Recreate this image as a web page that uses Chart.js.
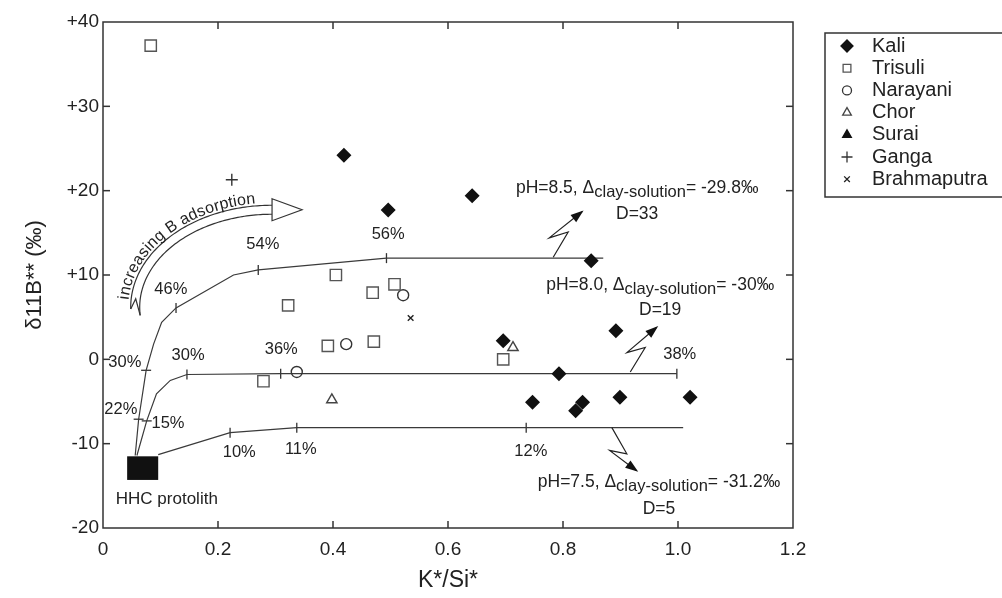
<!DOCTYPE html>
<html>
<head>
<meta charset="utf-8">
<script src="https://cdn.jsdelivr.net/npm/chart.js@4.4.1/dist/chart.umd.min.js"></script>
<style>
  html, body { margin: 0; padding: 0; background: #fff; }
  #wrap { width: 1002px; height: 598px; }
</style>
</head>
<body>
<div id="wrap"><canvas id="chart"></canvas></div>
<script>
// river samples: [K*/Si*, d11B** (permil)]
const kali = [[0.419, 24.2], [0.496, 17.7], [0.642, 19.4], [0.849, 11.7], [0.892, 3.4], [0.696, 2.2],
              [0.793, -1.7], [0.747, -5.1], [0.822, -6.1], [0.834, -5.1], [0.899, -4.5], [1.021, -4.5]];
const trisuli = [[0.083, 37.2], [0.322, 6.4], [0.405, 10.0], [0.469, 7.9], [0.507, 8.9], [0.391, 1.6],
                 [0.471, 2.1], [0.279, -2.6], [0.696, 0.0]];
const narayani = [[0.522, 7.6], [0.423, 1.8], [0.337, -1.5]];
const chor = [[0.398, -4.8], [0.713, 1.4]];
const surai = [];
const ganga = [[0.224, 21.3]];
const brahmaputra = [[0.535, 4.9]];

// model curves from the HHC protolith
const curve85 = [[0.056, -11.4], [0.062, -7.1], [0.075, -1.3], [0.088, 1.8], [0.102, 4.4], [0.127, 6.1],
                 [0.227, 10.0], [0.270, 10.6], [0.493, 12.0], [0.870, 12.0]];
const curve80 = [[0.059, -11.4], [0.076, -7.3], [0.093, -4.1], [0.117, -2.5], [0.146, -1.8], [0.309, -1.7],
                 [0.998, -1.7]];
const curve75 = [[0.096, -11.3], [0.221, -8.7], [0.337, -8.1], [0.736, -8.1], [1.009, -8.1]];
const flatTicks = [[0.127, 6.1], [0.270, 10.6], [0.493, 12.0], [0.146, -1.8], [0.309, -1.7], [0.998, -1.7],
                   [0.221, -8.7], [0.337, -8.1], [0.736, -8.1]];
const steepTicks = [[0.062, -7.1], [0.075, -1.3], [0.076, -7.3]];

const protolith = { x: [0.042, 0.096], y: [-14.3, -11.5] };

const xTickLabels = ['0', '0.2', '0.4', '0.6', '0.8', '1.0', '1.2'];
const yTickLabels = ['-20', '-10', '0', '+10', '+20', '+30', '+40'];

const pctLabels = [
  ['56%', 0.496, 14.8], ['54%', 0.278, 13.6], ['46%', 0.118, 8.3], ['30%', 0.038, -0.4],
  ['30%', 0.148, 0.5], ['36%', 0.310, 1.2], ['22%', 0.031, -6.0], ['15%', 0.113, -7.6],
  ['10%', 0.237, -11.0], ['11%', 0.344, -10.7], ['12%', 0.744, -10.9], ['38%', 1.003, 0.6]
];
const modelLabels = [
  { pre: 'pH=8.5, Δ', sub: 'clay-solution', post: '= -29.8‰', d: 'D=33', x: 0.929, y: 20.3, dy: 17.2 },
  { pre: 'pH=8.0, Δ', sub: 'clay-solution', post: '= -30‰', d: 'D=19', x: 0.969, y: 8.8, dy: 5.8 },
  { pre: 'pH=7.5, Δ', sub: 'clay-solution', post: '= -31.2‰', d: 'D=5', x: 0.967, y: -14.6, dy: -17.8 }
];
const zigzags = [
  [[0.783, 12.1], [0.809, 15.1], [0.776, 14.4], [0.833, 17.5]],
  [[0.917, -1.5], [0.943, 1.4], [0.911, 0.8], [0.963, 3.8]],
  [[0.885, -8.1], [0.911, -11.2], [0.881, -10.8], [0.928, -13.2]]
];
const adsorptionArc = { cx: 0.294, cy: 6.17, rx: 0.238, ry: 11.57 };

const FONT = "'Liberation Sans', Arial, Helvetica, sans-serif";
const INK = '#222';
const pts = a => a.map(([x, y]) => ({ x, y }));

function river(label, data, style, radius, color, fill, legendRadius) {
  return {
    label, data: pts(data), showLine: false,
    pointStyle: style, pointRadius: radius, pointBorderWidth: 1.4,
    pointBorderColor: color, pointBackgroundColor: fill,
    legendRadius
  };
}
function curve(data) {
  return {
    label: '', data: pts(data), showLine: true, borderColor: '#3a3a3a', borderWidth: 1.2,
    pointRadius: 0, tension: 0
  };
}
function ticks(data, rot) {
  return {
    label: '', data: pts(data), showLine: false, pointStyle: 'line', pointRadius: 5,
    pointRotation: rot, pointBorderColor: '#333', pointBorderWidth: 1.3
  };
}

const datasets = [
  river('Kali', kali, 'rectRot', 6.5, '#111', '#111', 6),
  river('Trisuli', trisuli, 'rect', 8, '#555', 'rgba(0,0,0,0)', 5.5),
  river('Narayani', narayani, 'circle', 5.5, '#333', 'rgba(0,0,0,0)', 4.5),
  river('Chor', chor, 'triangle', 6, '#444', 'rgba(0,0,0,0)', 5),
  river('Surai', surai, 'triangle', 6, '#111', '#111', 5),
  river('Ganga', ganga, 'cross', 6, '#333', '#333', 5.5),
  river('Brahmaputra', brahmaputra, 'crossRot', 4, '#222', '#222', 4),
  curve(curve85), curve(curve80), curve(curve75),
  ticks(flatTicks, 90), ticks(steepTicks, 0)
];

function line(ctx, x1, y1, x2, y2) {
  ctx.beginPath(); ctx.moveTo(x1, y1); ctx.lineTo(x2, y2); ctx.stroke();
}

const overlay = {
  id: 'overlay',
  afterDatasetsDraw(chart) {
    const { ctx, chartArea: a, scales: { x, y } } = chart;
    const px = v => x.getPixelForValue(v), py = v => y.getPixelForValue(v);
    ctx.save();

    // frame with inward ticks
    ctx.strokeStyle = '#333'; ctx.lineWidth = 1.5;
    ctx.strokeRect(a.left, a.top, a.right - a.left, a.bottom - a.top);
    x.ticks.forEach(t => {
      const p = px(t.value);
      if (p <= a.left + 1 || p >= a.right - 1) return;
      line(ctx, p, a.bottom, p, a.bottom - 7); line(ctx, p, a.top, p, a.top + 7);
    });
    y.ticks.forEach(t => {
      const p = py(t.value);
      if (p <= a.top + 1 || p >= a.bottom - 1) return;
      line(ctx, a.left, p, a.left + 7, p); line(ctx, a.right, p, a.right - 7, p);
    });

    // protolith block
    ctx.fillStyle = '#111';
    ctx.fillRect(px(protolith.x[0]), py(protolith.y[1]),
                 px(protolith.x[1]) - px(protolith.x[0]), py(protolith.y[0]) - py(protolith.y[1]));

    // percentage labels
    ctx.fillStyle = INK; ctx.textAlign = 'center'; ctx.textBaseline = 'middle';
    ctx.font = '16.5px ' + FONT;
    pctLabels.forEach(([t, vx, vy]) => ctx.fillText(t, px(vx), py(vy)));
    ctx.font = '17px ' + FONT;
    ctx.fillText('HHC protolith', px(0.111), py(-16.6));

    // model labels with subscript
    modelLabels.forEach(m => {
      ctx.font = '17.5px ' + FONT;
      const w1 = ctx.measureText(m.pre).width, w3 = ctx.measureText(m.post).width;
      ctx.font = '16.5px ' + FONT;
      const w2 = ctx.measureText(m.sub).width;
      let sx = px(m.x) - (w1 + w2 + w3) / 2;
      const sy = py(m.y);
      ctx.textAlign = 'left';
      ctx.font = '17.5px ' + FONT; ctx.fillText(m.pre, sx, sy); sx += w1;
      ctx.font = '16.5px ' + FONT; ctx.fillText(m.sub, sx, sy + 4); sx += w2;
      ctx.font = '17.5px ' + FONT; ctx.fillText(m.post, sx, sy);
      ctx.textAlign = 'center';
      ctx.fillText(m.d, px(m.x), py(m.dy));
    });

    // zigzag arrows
    ctx.strokeStyle = '#222'; ctx.lineWidth = 1.2; ctx.fillStyle = '#111';
    zigzags.forEach(z => {
      const p = z.map(([vx, vy]) => [px(vx), py(vy)]);
      ctx.beginPath(); ctx.moveTo(p[0][0], p[0][1]);
      p.slice(1).forEach(q => ctx.lineTo(q[0], q[1]));
      ctx.stroke();
      const [ax, ay] = p[p.length - 1], [bx, by] = p[p.length - 2];
      const ang = Math.atan2(ay - by, ax - bx);
      ctx.save(); ctx.translate(ax, ay); ctx.rotate(ang);
      ctx.beginPath(); ctx.moveTo(2, 0); ctx.lineTo(-11, -4.5); ctx.lineTo(-11, 4.5); ctx.closePath(); ctx.fill();
      ctx.restore();
    });

    // curved "increasing B adsorption" arrow
    const cx = px(adsorptionArc.cx), cy = py(adsorptionArc.cy);
    const rx = px(adsorptionArc.cx + adsorptionArc.rx) - cx;
    const ry = cy - py(adsorptionArc.cy + adsorptionArc.ry);
    const ell = (r1, r2, t) => [cx - r1 * Math.cos(t), cy - r2 * Math.sin(t)];
    const deg = Math.PI / 180;
    ctx.strokeStyle = '#333'; ctx.lineWidth = 1.2;
    [[4.5, -1], [-4.5, -5]].forEach(([off, t0]) => {
      ctx.beginPath();
      for (let d = t0; d <= 90; d += 1) {
        const [ex, ey] = ell(rx + off, ry + off, d * deg);
        if (d === t0) ctx.moveTo(ex, ey); else ctx.lineTo(ex, ey);
      }
      ctx.stroke();
    });
    // notched tail
    const o = ell(rx + 4.5, ry + 4.5, -1 * deg), i = ell(rx - 4.5, ry - 4.5, -5 * deg), m = ell(rx, ry, 5 * deg);
    ctx.beginPath(); ctx.moveTo(o[0], o[1]); ctx.lineTo(m[0], m[1]); ctx.lineTo(i[0], i[1]); ctx.stroke();
    // hollow head
    ctx.fillStyle = '#fff';
    ctx.beginPath();
    ctx.moveTo(cx, cy - ry - 11); ctx.lineTo(cx + 30, cy - ry); ctx.lineTo(cx, cy - ry + 11); ctx.closePath();
    ctx.fill(); ctx.stroke();

    // text along the arc
    ctx.fillStyle = INK; ctx.font = '16px ' + FONT; ctx.textAlign = 'center'; ctx.textBaseline = 'alphabetic';
    const br = [rx + 7, ry + 7];
    const advance = (t, dist) => {
      let s = 0; const dt = 0.002;
      while (s < dist) { s += Math.hypot(br[0] * Math.sin(t), br[1] * Math.cos(t)) * dt; t += dt; }
      return t;
    };
    let t = 4 * deg;
    for (const ch of 'increasing B adsorption') {
      const w = ctx.measureText(ch).width;
      t = advance(t, w / 2);
      const [ex, ey] = ell(br[0], br[1], t);
      ctx.save(); ctx.translate(ex, ey);
      ctx.rotate(Math.atan2(-br[1] * Math.cos(t), br[0] * Math.sin(t)));
      ctx.fillText(ch, 0, 0); ctx.restore();
      t = advance(t, w / 2);
    }

    ctx.restore();
  },
  afterDraw(chart) {
    // legend box to the right of the plot
    const { ctx } = chart;
    const items = chart.data.datasets.filter(d => d.legendRadius);
    ctx.save();
    ctx.strokeStyle = '#333'; ctx.lineWidth = 1.5;
    ctx.strokeRect(825, 33, 200, 164);
    ctx.font = '20px ' + FONT; ctx.fillStyle = INK; ctx.textAlign = 'left'; ctx.textBaseline = 'middle';
    items.forEach((d, k) => {
      const yy = 46 + k * 22.2;
      ctx.fillStyle = d.pointBackgroundColor; ctx.strokeStyle = d.pointBorderColor; ctx.lineWidth = 1.3;
      Chart.helpers.drawPoint(ctx, { pointStyle: d.pointStyle, radius: d.legendRadius, rotation: 0, borderWidth: 1.3 }, 847, yy);
      ctx.fillStyle = INK;
      ctx.fillText(d.label, 872, yy);
    });
    ctx.restore();
  }
};

new Chart(document.getElementById('chart'), {
  type: 'scatter',
  data: { datasets },
  options: {
    responsive: true, maintainAspectRatio: false, animation: false, events: [],
    layout: { padding: { top: 22, right: 209, left: 0, bottom: 0 } },
    plugins: { legend: { display: false }, tooltip: { enabled: false } },
    scales: {
      x: {
        type: 'linear', min: 0, max: 1.2,
        grid: { display: false, drawTicks: false }, border: { display: false },
        ticks: { stepSize: 0.2, autoSkip: false, maxRotation: 0, padding: 10, color: INK,
                 font: { family: FONT, size: 19 }, callback: (v, i) => xTickLabels[i] },
        title: { display: true, text: 'K*/Si*', color: INK, font: { family: FONT, size: 23 },
                 padding: { top: 0, bottom: 4 } },
        afterFit: s => { s.height = 70; }
      },
      y: {
        type: 'linear', min: -20, max: 40,
        grid: { display: false, drawTicks: false }, border: { display: false },
        ticks: { stepSize: 10, autoSkip: false, padding: 4, color: INK,
                 font: { family: FONT, size: 19 }, callback: (v, i) => yTickLabels[i] },
        title: { display: true, text: 'δ11B** (‰)', color: INK, font: { family: FONT, size: 22 },
                 padding: { top: 22, bottom: 0 } },
        afterFit: s => { s.width = 103; }
      }
    }
  },
  plugins: [overlay]
});
</script>
</body>
</html>
